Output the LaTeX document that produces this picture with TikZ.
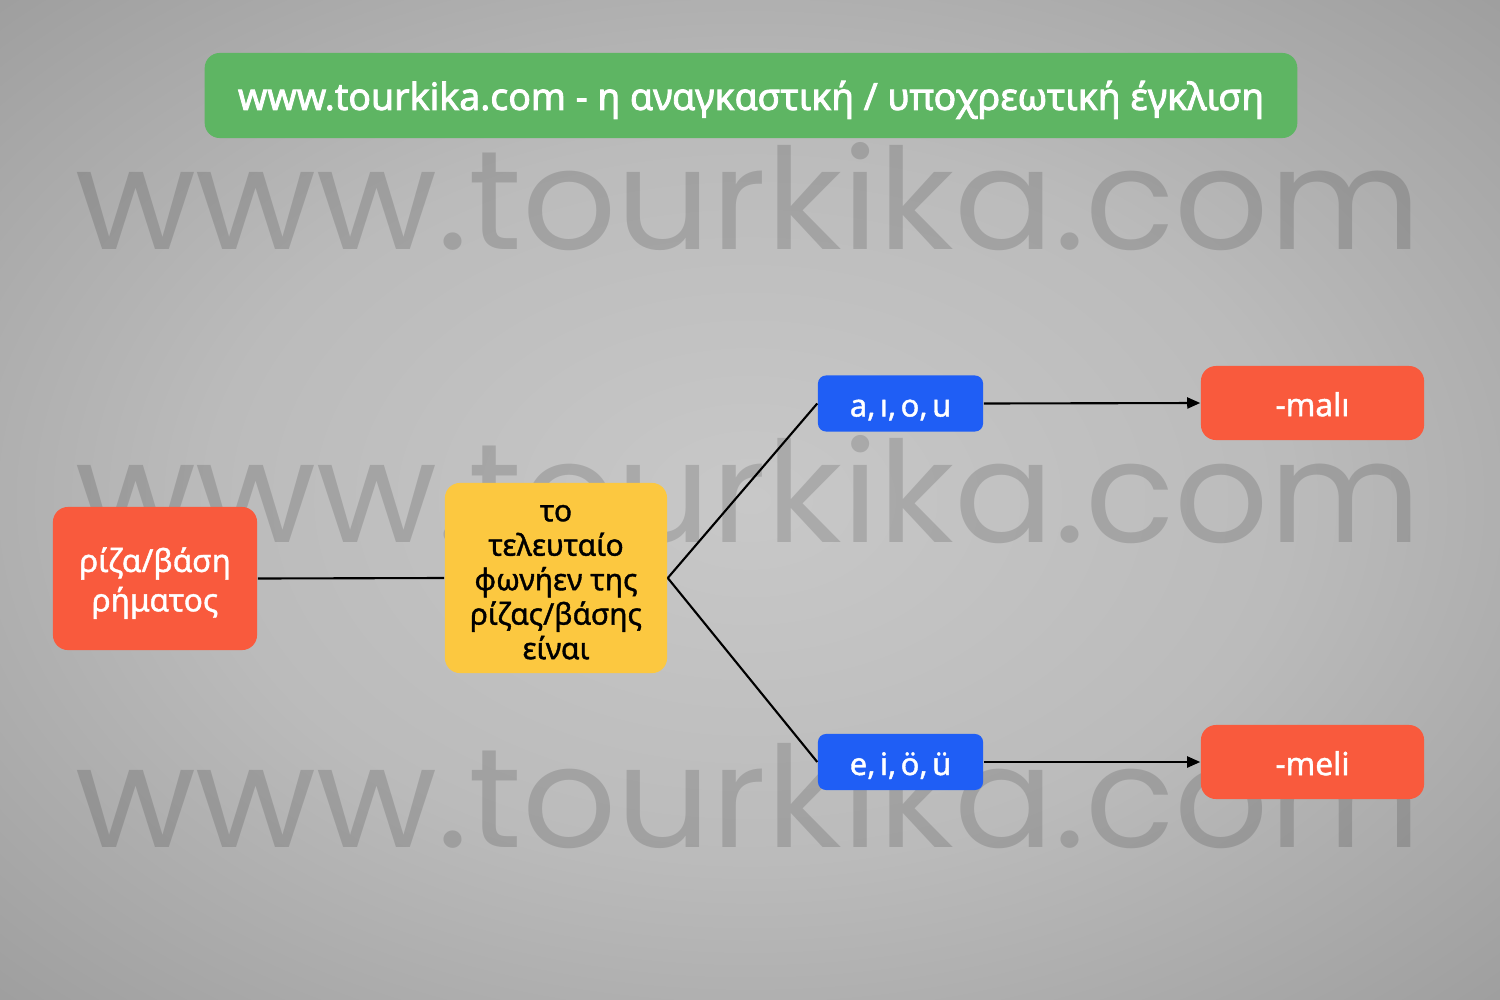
\documentclass[tikz,border=0pt]{standalone}
\usepackage{fontspec}
\setmainfont{Noto Sans}
\newfontfamily\wmfont{Poppins}
\newfontfamily\medfont[FakeBold=1.3]{Noto Sans}
\newfontfamily\bluefont[FakeBold=1.31, WordSpace=0.55]{Noto Sans}
\newfontfamily\titlefont[FakeBold=2.2]{Noto Sans}
\usetikzlibrary{arrows.meta}
\definecolor{bgin}{RGB}{200,200,200}
\definecolor{bgmid}{RGB}{187,187,187}
\definecolor{bgout}{RGB}{135,135,135}
\definecolor{titlegreen}{RGB}{94,181,99}
\definecolor{boxorange}{RGB}{249,90,61}
\definecolor{boxyellow}{RGB}{252,200,64}
\definecolor{boxblue}{RGB}{31,94,245}
\newcommand\lowr[1]{\raisebox{-1.5pt}[\height][\depth]{\begin{tabular}{@{}c@{}}#1\end{tabular}}}
\pgfdeclareradialshading{bgshade}{\pgfpoint{0bp}{0bp}}{color(0bp)=(bgin); color(18bp)=(bgmid); color(50bp)=(bgout)}
\tikzset{
  wm/.style={inner sep=0pt, text=black, text opacity=0.14, font=\wmfont},
  titlebox/.style={fill=titlegreen, rounded corners=0.15cm, text=white, inner sep=0pt,
    minimum width=10.92cm, minimum height=0.85cm, font=\fontsize{10.65}{13}\selectfont\titlefont},
  orangebox/.style={fill=boxorange, rounded corners=0.15cm, text=white, inner sep=0pt, align=center,
    font=\fontsize{9}{11.2}\selectfont\medfont},
  yellowbox/.style={fill=boxyellow, rounded corners=0.15cm, text=black, inner sep=0pt, align=center,
    minimum width=2.22cm, minimum height=1.9cm, font=\fontsize{8.5}{9.8}\selectfont\medfont},
  bluebox/.style={fill=boxblue, rounded corners=0.08cm, text=white, inner sep=0pt, align=center,
    minimum width=1.65cm, minimum height=0.56cm, font=\fontsize{8.8}{11}\selectfont\bluefont},
  conn/.style={draw=black, line width=0.6pt},
  arr/.style={conn, -{Triangle[length=1.3mm, width=1.1mm]}}
}
\begin{document}
\begin{tikzpicture}[x=0.01cm, y=-0.01cm]
\shade[shading=bgshade] (0,0) rectangle (1500,1000);
\useasboundingbox (0,0) rectangle (1500,1000);
% watermarks
\node[wm] (wm1) at (748,197) {\resizebox{13.45cm}{1.07cm}{www.tourkika.com}};
\node[wm] (wm2) at (748,490) {\resizebox{13.45cm}{1.07cm}{www.tourkika.com}};
\node[wm] (wm3) at (748,795) {\resizebox{13.45cm}{1.07cm}{www.tourkika.com}};
% title
\node[titlebox] (title) at (751,95.5) {\lowr{www.tourkika.com - η αναγκαστική / υποχρεωτική έγκλιση}};
% nodes
\node[orangebox, minimum width=2.04cm, minimum height=1.43cm] (root) at (155,578.5) {\lowr{ρίζα/βάση\\ρήματος}};
\node[yellowbox] (mid) at (556,578) {\lowr{το\\τελευταίο\\φωνήεν της\\ρίζας/βάσης\\είναι}};
\node[bluebox] (v1) at (900.5,403.5) {\lowr{a, ı, o, u}};
\node[bluebox] (v2) at (900.5,762) {\lowr{e, i, ö, ü}};
\node[orangebox, minimum width=2.23cm, minimum height=0.74cm] (s1) at (1312.5,403) {\lowr{-malı}};
\node[orangebox, minimum width=2.23cm, minimum height=0.74cm] (s2) at (1312.5,762) {\lowr{-meli}};
% connectors
\draw[conn] (root.east) -- (mid.west);
\draw[conn] (mid.east) -- (v1.west);
\draw[conn] (mid.east) -- (v2.west);
\draw[arr] (v1.east) -- (s1.west);
\draw[arr] (v2.east) -- (s2.west);
\end{tikzpicture}
\end{document}
